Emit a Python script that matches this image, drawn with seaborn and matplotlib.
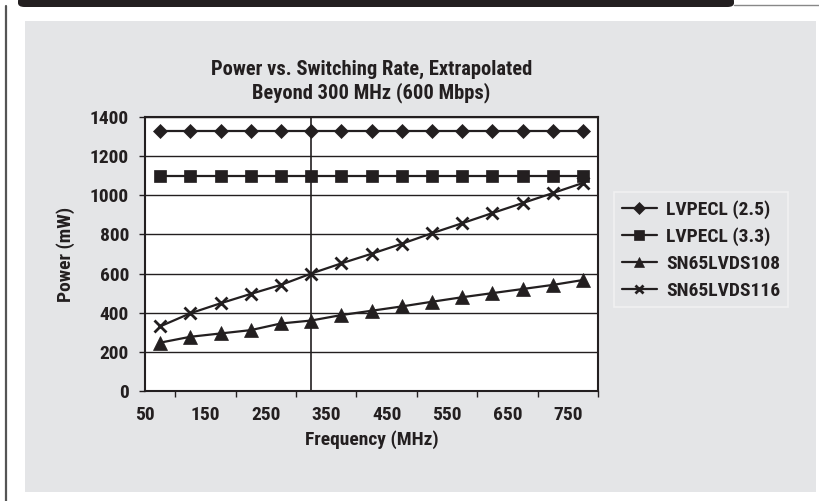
import pandas as pd
import matplotlib
matplotlib.use("Agg")
import matplotlib.pyplot as plt
from matplotlib.patches import Rectangle, FancyBboxPatch
from matplotlib.lines import Line2D
import seaborn as sns

freq = [75, 125, 175, 225, 275, 325, 375, 425, 475, 525, 575, 625, 675, 725, 775]
lvpecl_25 = [1330] * 15
lvpecl_33 = [1100] * 15
lvds108 = [247, 277, 294, 311, 345, 360, 388, 410, 432, 456, 479, 500, 521, 542, 567]
lvds116 = [330, 397, 448, 496, 542, 600, 652, 701, 752, 806, 857, 909, 960, 1011, 1063]

series_names = ["LVPECL (2.5)", "LVPECL (3.3)", "SN65LVDS108", "SN65LVDS116"]
series_values = [lvpecl_25, lvpecl_33, lvds108, lvds116]
markers = ["D", "s", "^", "x"]
msizes = [7.5, 9, 10, 8.5]

df = pd.concat([pd.DataFrame({"freq": freq, "power": v, "part": n})
                for n, v in zip(series_names, series_values)])

sns.set_style("white")
plt.rcParams["font.family"] = ["Liberation Sans Narrow", "Roboto Condensed",
                               "DejaVu Sans Condensed", "Liberation Sans", "DejaVu Sans"]
plt.rcParams["font.weight"] = "bold"

fig = plt.figure(figsize=(8.19, 5.01), dpi=100)
fig.patch.set_facecolor("white")

# gray panel and frame decoration
fig.patches.append(Rectangle((25 / 819, 1 - 492 / 501), 791 / 819, 471 / 501,
                             transform=fig.transFigure, facecolor="#e4e5e7",
                             edgecolor="none", zorder=-5))
fig.patches.append(FancyBboxPatch((18 / 819, 1 - 7 / 501), 716 / 819, 10 / 501,
                                  boxstyle="round,pad=0,rounding_size=0.008",
                                  transform=fig.transFigure, facecolor="#231f20",
                                  edgecolor="none", zorder=-4))
fig.lines.append(Line2D([6 / 819, 6 / 819], [0, 1 - 6 / 501], transform=fig.transFigure,
                        color="#555555", lw=1.6, zorder=-4))
fig.lines.append(Line2D([734 / 819, 1], [1 - 4.5 / 501, 1 - 4.5 / 501],
                        transform=fig.transFigure, color="#888888", lw=1, zorder=-4))

ax = fig.add_axes([145 / 819, 1 - 391 / 501, 453 / 819, 274 / 501])
ax.set_zorder(5)
ax.set_facecolor("white")

for name, mk, ms in zip(series_names, markers, msizes):
    sub = df[df["part"] == name]
    sns.lineplot(data=sub, x="freq", y="power", ax=ax, color="#231f20", lw=1.6,
                 marker=mk, markersize=ms, markeredgewidth=2.0 if mk == "x" else 0.5,
                 markeredgecolor="#231f20", markerfacecolor="#231f20", label=name,
                 zorder=3)

ax.axvline(325, color="#231f20", lw=1.2, zorder=2)
ax.set_xlim(50, 800)
ax.set_ylim(0, 1400)
ax.set_xticks(range(50, 800, 100))
ax.set_xticks(range(100, 801, 100), minor=True)
ax.set_yticks(range(0, 1401, 200))
ax.yaxis.grid(True, color="#231f20", lw=1.0)
ax.set_axisbelow(True)
for s in ax.spines.values():
    s.set_color("#231f20")
    s.set_linewidth(1.5)

ax.tick_params(axis="x", which="major", direction="out", length=6.5, width=1,
               color="#231f20", pad=4, labelsize=14)
ax.tick_params(axis="x", which="minor", direction="out", length=4, width=1,
               color="#231f20", bottom=True)
ax.tick_params(axis="y", direction="out", length=4.5, width=1, color="#231f20",
               pad=7, labelsize=14, left=True)
for lab in ax.get_xticklabels() + ax.get_yticklabels():
    lab.set_fontweight("bold")
    lab.set_color("#231f20")

ax.set_xlabel("Frequency (MHz)", fontsize=14, fontweight="bold", color="#231f20", labelpad=5)
ax.set_ylabel("Power (mW)", fontsize=14, fontweight="bold", color="#231f20", labelpad=11)
ax.set_title("Power vs. Switching Rate, Extrapolated\nBeyond 300 MHz (600 Mbps)",
             fontsize=14.8, fontweight="bold", color="#231f20", pad=13, linespacing=1.25)

ax.get_legend().remove()
handles, labels = ax.get_legend_handles_labels()
leg = fig.legend(handles, labels, loc="upper left",
                 bbox_to_anchor=(614 / 819, 1 - 192 / 501), bbox_transform=fig.transFigure,
                 frameon=True, fancybox=False, handlelength=1.8, handletextpad=0.5,
                 labelspacing=0.45, borderpad=0.4, borderaxespad=0, markerscale=0.75,
                 prop={"size": 14, "weight": "bold"})
leg.get_frame().set_facecolor("#e4e5e7")
leg.get_frame().set_edgecolor("#f4f4f4")
leg.get_frame().set_linewidth(1.2)
for t in leg.get_texts():
    t.set_color("#231f20")

fig.savefig("out.png", dpi=100)
